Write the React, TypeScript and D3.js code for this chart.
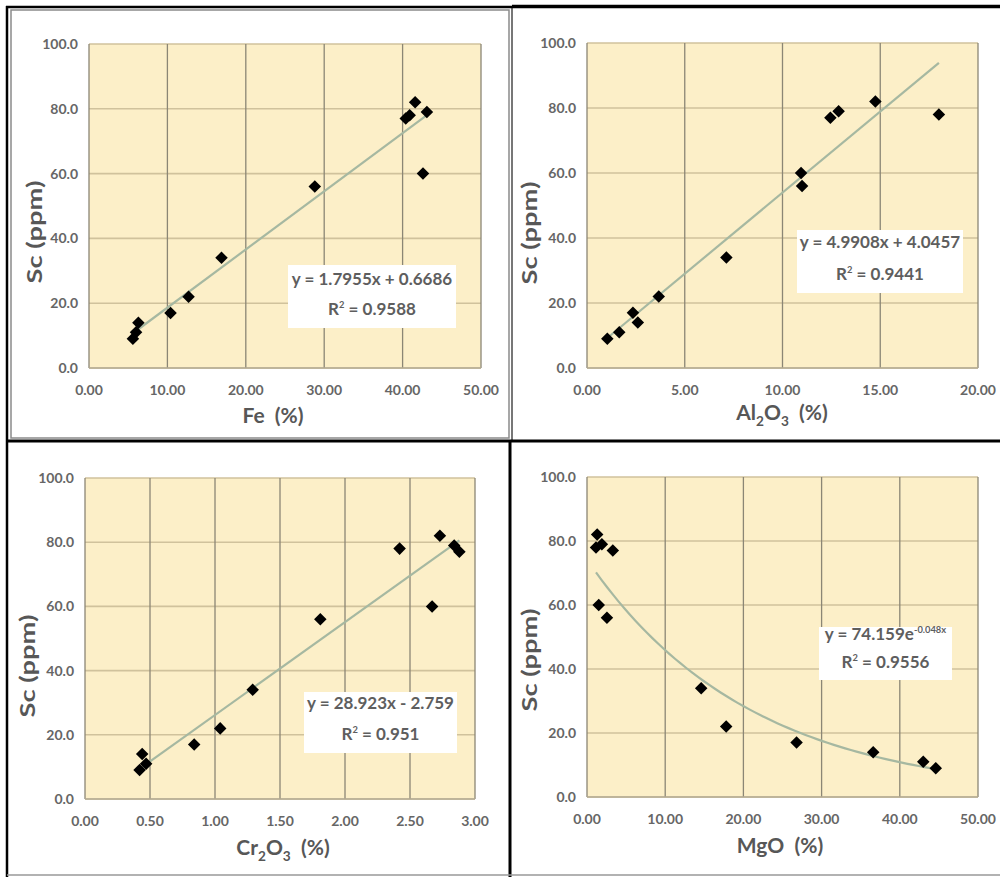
import React from "react";
import * as d3 from "d3";

// Sc (ppm) per sample, and the oxide / element content of the same samples
const sc = [9, 11, 14, 17, 22, 34, 56, 60, 77, 78, 79, 82];
const fe = [5.6, 6.0, 6.3, 10.4, 12.7, 16.9, 28.8, 42.6, 40.4, 40.9, 43.1, 41.6];
const al2o3 = [1.04, 1.65, 2.6, 2.35, 3.67, 7.13, 11.0, 10.95, 12.45, 18.0, 12.87, 14.75];
const cr2o3 = [0.42, 0.47, 0.44, 0.84, 1.04, 1.29, 1.81, 2.67, 2.88, 2.42, 2.84, 2.73];
const mgo = [44.6, 43.0, 36.6, 26.8, 17.8, 14.6, 2.55, 1.5, 3.3, 1.15, 1.9, 1.3];

const scTicks = [0, 20, 40, 60, 80, 100];
const feTicks = [0, 10, 20, 30, 40, 50];
const alTicks = [0, 5, 10, 15, 20];
const crTicks = [0, 0.5, 1, 1.5, 2, 2.5, 3];
const mgTicks = [0, 10, 20, 30, 40, 50];

// trend lines (coefficients as printed on the charts)
const feFit = { kind: "linear", a: 1.7955, b: 0.6686, r2: "0.9588" };
const alFit = { kind: "linear", a: 4.9908, b: 4.0457, r2: "0.9441" };
const crFit = { kind: "linear", a: 28.923, b: -2.759, r2: "0.951" };
const mgFit = { kind: "exp", a: 74.159, b: -0.048, r2: "0.9556" };

const TXT = "#5e5e5e";
const FONT = "Lato, 'Open Sans', sans-serif";
const SP = "\u00a0";

const panels = [
  {
    xs: fe, ticks: feTicks, fit: feFit, title: [["Fe" + SP + SP + "(%)", 0]],
    eq1: [["y = 1.7955x + 0.6686", 0]],
    plot: { l: 89, r: 481, t: 44, b: 368 },
    yTitle: [35, 232], xTitle: [273, 423],
    box: { x: 288, y: 265, w: 168, h: 63, l1: 285, l2: 315 },
  },
  {
    xs: al2o3, ticks: alTicks, fit: alFit,
    title: [["Al", 0], ["2", 1], ["O", 0], ["3", 1], [SP + SP + "(%)", 0]],
    eq1: [["y = 4.9908x + 4.0457", 0]],
    plot: { l: 587, r: 978, t: 43, b: 368 },
    yTitle: [530, 233], xTitle: [782, 420],
    box: { x: 797, y: 230, w: 166, h: 63, l1: 248, l2: 280 },
  },
  {
    xs: cr2o3, ticks: crTicks, fit: crFit,
    title: [["Cr", 0], ["2", 1], ["O", 0], ["3", 1], [SP + SP + "(%)", 0]],
    eq1: [["y = 28.923x - 2.759", 0]],
    plot: { l: 85, r: 475, t: 478, b: 799 },
    yTitle: [28, 666], xTitle: [283, 855],
    box: { x: 304, y: 692, w: 153, h: 61, l1: 709, l2: 740 },
  },
  {
    xs: mgo, ticks: mgTicks, fit: mgFit, title: [["MgO" + SP + SP + "(%)", 0]],
    eq1: [["y = 74.159e", 0], ["-0.048x", 2]],
    plot: { l: 587, r: 978, t: 477, b: 797 },
    yTitle: [530, 660], xTitle: [780, 853],
    box: { x: 819, y: 627, w: 133, h: 53, l1: 640, l2: 668 },
  },
];

function Spans({ parts, size }) {
  // 0 = normal, 1 = subscript, 2 = superscript
  return parts.map(([t, k], i) => {
    const prev = i > 0 ? parts[i - 1][1] : 0;
    let dy = 0;
    if (k === 1) dy = size * 0.3;
    if (k === 2) dy = -size * 0.4;
    if (prev === 1) dy -= size * 0.3;
    if (prev === 2) dy += size * 0.4;
    return (
      <tspan key={i} dy={dy} fontSize={k ? size * (k === 2 ? 0.55 : 0.65) : size}>
        {t}
      </tspan>
    );
  });
}

function Panel({ p }) {
  const { l, r, t, b } = p.plot;
  const x = d3.scaleLinear().domain(d3.extent(p.ticks)).range([l, r]);
  const y = d3.scaleLinear().domain([0, 100]).range([b, t]);
  const diamond = d3.symbol(d3.symbolDiamond2, 100)();

  const [x0, x1] = d3.extent(p.xs);
  const f = (v) => (p.fit.kind === "exp" ? p.fit.a * Math.exp(p.fit.b * v) : p.fit.a * v + p.fit.b);
  const fitPts = p.fit.kind === "exp" ? d3.range(x0, x1, (x1 - x0) / 60).concat([x1]) : [x0, x1];
  const line = d3.line().x((v) => x(v)).y((v) => y(f(v)));

  const fmtX = d3.format(".2f");
  const fmtY = d3.format(".1f");

  return (
    <g fontFamily={FONT} fontWeight="bold" fill={TXT}>
      <rect x={l} y={t} width={r - l} height={b - t} fill="#fcefc8" />
      {scTicks.map((v) => (
        <line key={"h" + v} x1={l} x2={r} y1={y(v)} y2={y(v)} stroke="#d0c29c" strokeWidth={1.6} />
      ))}
      {p.ticks.map((v) => (
        <line key={"v" + v} x1={x(v)} x2={x(v)} y1={t} y2={b} stroke="#8b8675" strokeWidth={1.3} />
      ))}
      <line x1={l} x2={r} y1={b} y2={b} stroke="#b5ab94" strokeWidth={1.6} />
      {scTicks.map((v) => (
        <text key={"yt" + v} x={l - 11} y={y(v)} dy="0.35em" textAnchor="end" fontSize={14} fill="#666">
          {fmtY(v)}
        </text>
      ))}
      {p.ticks.map((v) => (
        <text key={"xt" + v} x={x(v)} y={b + 22} dy="0.35em" textAnchor="middle" fontSize={14} fill="#666">
          {fmtX(v)}
        </text>
      ))}
      <text
        transform={`translate(${p.yTitle[0]},${p.yTitle[1]}) rotate(-90) scale(1.3,1)`}
        dy="0.35em" textAnchor="middle" fontSize={21} fill="#575757"
      >
        {"Sc" + SP + "(ppm)"}
      </text>
      <text x={p.xTitle[0]} y={p.xTitle[1]} dy="0.35em" textAnchor="middle" fontSize={21} fill="#575757">
        <Spans parts={p.title} size={21} />
      </text>
      <path d={line(fitPts)} fill="none" stroke="#a6b8a1" strokeWidth={2.2} />
      {p.xs.map((v, i) => (
        <path key={"d" + i} d={diamond} transform={`translate(${x(v)},${y(sc[i])})`} fill="#000" />
      ))}
      <rect x={p.box.x} y={p.box.y} width={p.box.w} height={p.box.h} fill="#fff" />
      <text x={p.box.x + p.box.w / 2} y={p.box.l1} dy="0.35em" textAnchor="middle" fontSize={17}>
        <Spans parts={p.eq1} size={17} />
      </text>
      <text x={p.box.x + p.box.w / 2} y={p.box.l2} dy="0.35em" textAnchor="middle" fontSize={17}>
        <Spans parts={[["R", 0], ["2", 2], [" = " + p.fit.r2, 0]]} size={17} />
      </text>
    </g>
  );
}

export default function App() {
  return (
    <svg width={1000} height={877} style={{ position: "absolute", left: 0, top: 0, background: "#fff" }}>
      {panels.map((p, i) => (
        <Panel key={i} p={p} />
      ))}
      {/* frames around the four charts */}
      <rect x={11} y={10} width={498} height={428} fill="none" stroke="#8a8a8a" strokeWidth={1.5} />
      <line x1={512} x2={512} y1={7} y2={440} stroke="#777" strokeWidth={2} />
      <line x1={510} x2={510} y1={440} y2={877} stroke="#000" strokeWidth={3} />
      <line x1={6} x2={1000} y1={441} y2={441} stroke="#000" strokeWidth={3} />
      <line x1={6} x2={512} y1={7} y2={7} stroke="#000" strokeWidth={2.5} />
      <line x1={512} x2={1000} y1={6.5} y2={6.5} stroke="#000" strokeWidth={3.5} />
      <line x1={7} x2={7} y1={6} y2={877} stroke="#000" strokeWidth={2.5} />
      <line x1={7} x2={1000} y1={875} y2={875} stroke="#999" strokeWidth={1.5} />
    </svg>
  );
}
